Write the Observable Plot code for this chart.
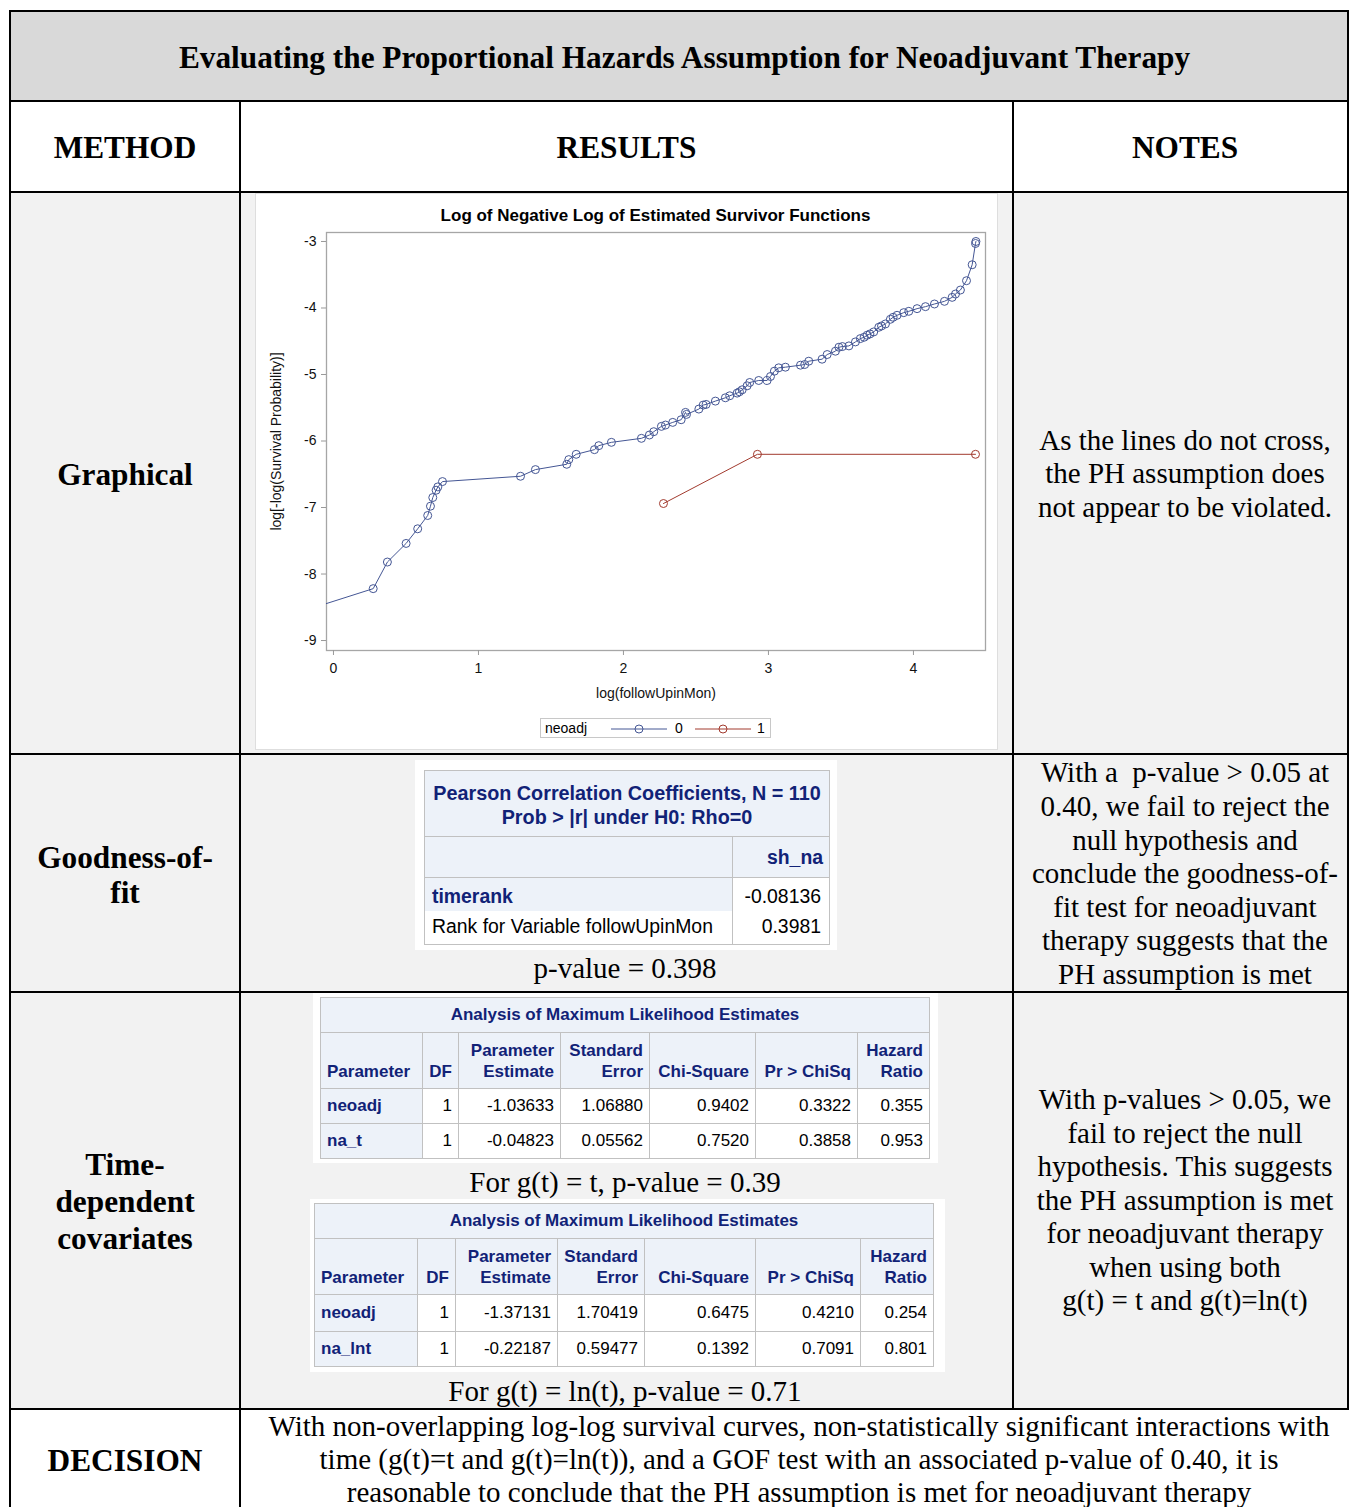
<!DOCTYPE html>
<html><head><meta charset="utf-8">
<script src="https://cdn.jsdelivr.net/npm/d3@7"></script>
<script src="https://cdn.jsdelivr.net/npm/@observablehq/plot@0.6"></script>
<style>
body{margin:0;background:#fff;}
#page{position:relative;width:1349px;height:1507px;overflow:hidden;background:#fff;font-family:"Liberation Serif","Times New Roman",serif;color:#000;}
.abs{position:absolute;}
.hl{position:absolute;background:#000;height:2px;}
.vl{position:absolute;background:#000;width:2px;}
.cell{position:absolute;display:flex;align-items:center;justify-content:center;text-align:center;}
.bold{font-weight:bold;font-size:31.3px;line-height:36px;}
.note{font-size:29px;line-height:33.6px;}
.sas{border-collapse:collapse;table-layout:fixed;font-family:"Liberation Sans",Arial,sans-serif;position:absolute;font-size:17px;}
.sas td{border:1px solid #c1c1c1;padding:0 6px;overflow:hidden;white-space:nowrap;box-sizing:border-box;}
.sas .h{background:#edf2f9;color:#112277;font-weight:bold;}
.sas .d{background:#fff;color:#000;text-align:right;}
.ptxt{position:absolute;font-size:29px;line-height:34px;text-align:center;white-space:nowrap;}
</style></head>
<body>
<div id="page"></div>
<script>
// ---------- data ----------
const blueX = [-0.10,0.274,0.372,0.501,0.581,0.650,0.669,0.685,0.708,0.720,0.752,1.290,1.393,1.609,1.623,1.674,1.800,1.830,1.917,2.124,2.179,2.209,2.262,2.290,2.340,2.398,2.428,2.435,2.520,2.550,2.570,2.634,2.703,2.733,2.784,2.800,2.819,2.853,2.871,2.933,2.991,3.014,3.041,3.071,3.117,3.221,3.250,3.278,3.370,3.405,3.462,3.486,3.510,3.555,3.600,3.634,3.660,3.680,3.700,3.726,3.761,3.780,3.807,3.841,3.860,3.887,3.933,3.968,4.025,4.083,4.145,4.214,4.267,4.290,4.324,4.366,4.405,4.428,4.431];
const blueY = [-8.48,-8.22,-7.82,-7.54,-7.32,-7.12,-6.98,-6.85,-6.74,-6.69,-6.61,-6.53,-6.43,-6.35,-6.28,-6.20,-6.13,-6.07,-6.02,-5.96,-5.91,-5.86,-5.78,-5.76,-5.72,-5.68,-5.57,-5.60,-5.52,-5.46,-5.45,-5.40,-5.35,-5.32,-5.28,-5.26,-5.23,-5.17,-5.12,-5.09,-5.09,-5.03,-4.95,-4.90,-4.89,-4.86,-4.85,-4.80,-4.77,-4.70,-4.65,-4.59,-4.58,-4.57,-4.51,-4.46,-4.44,-4.41,-4.39,-4.36,-4.29,-4.27,-4.24,-4.17,-4.14,-4.11,-4.07,-4.05,-4.01,-3.98,-3.94,-3.90,-3.84,-3.79,-3.73,-3.59,-3.35,-3.03,-3.00];
const redX = [2.276,2.924,4.428];
const redY = [-6.94,-6.20,-6.20];
const groups = ["0","1"];
const xTicks = [0,1,2,3,4];
const yTicks = [-3,-4,-5,-6,-7,-8,-9];

const pearsonTitle = ["Pearson Correlation Coefficients, N = 110","Prob > |r| under H0: Rho=0"];
const pearsonCol = "sh_na";
const pearsonVar = "timerank";
const pearsonLabel = "Rank for Variable followUpinMon";
const pearsonValues = ["-0.08136","0.3981"];

const mleTitle = "Analysis of Maximum Likelihood Estimates";
const mleHeaders = [["Parameter"],["DF"],["Parameter","Estimate"],["Standard","Error"],["Chi-Square"],["Pr > ChiSq"],["Hazard","Ratio"]];
const mle1Rows = [["neoadj","1","-1.03633","1.06880","0.9402","0.3322","0.355"],["na_t","1","-0.04823","0.05562","0.7520","0.3858","0.953"]];
const mle2Rows = [["neoadj","1","-1.37131","1.70419","0.6475","0.4210","0.254"],["na_lnt","1","-0.22187","0.59477","0.1392","0.7091","0.801"]];

const BLUE = "#445694", RED = "#A23A2E";
const page = document.getElementById("page");
function el(tag, cls, style, html){const e=document.createElement(tag); if(cls) e.className=cls; if(style) e.style.cssText=style; if(html!=null) e.innerHTML=html; page.appendChild(e); return e;}

// ---------- backgrounds ----------
el("div","abs","left:10px;top:10px;width:1339px;height:91px;background:#d9d9d9");
el("div","abs","left:10px;top:192px;width:1339px;height:1217px;background:#f2f2f2");
// SAS output areas (white)
el("div","abs","left:255px;top:193px;width:743px;height:557px;background:#fff;border:1px solid #dedede;box-sizing:border-box");
el("div","abs","left:415px;top:760px;width:422px;height:190px;background:#fff");
el("div","abs","left:313px;top:993px;width:625px;height:170px;background:#fff");
el("div","abs","left:310px;top:1199px;width:635px;height:173px;background:#fff");

// ---------- grid lines ----------
[10,100,191,753,991,1408].forEach(y=>el("div","hl",`left:10px;top:${y}px;width:1339px`));
el("div","vl","left:9px;top:10px;height:1497px");
el("div","vl","left:1347px;top:10px;height:1399px");
el("div","vl","left:239px;top:101px;height:1406px");
el("div","vl","left:1012px;top:101px;height:1308px");

// ---------- texts ----------
el("div","cell bold","left:10px;top:13px;width:1349px;height:90px","Evaluating the Proportional Hazards Assumption for Neoadjuvant Therapy");
el("div","cell bold","left:10px;top:103px;width:230px;height:90px","METHOD");
el("div","cell bold","left:240px;top:103px;width:773px;height:90px","RESULTS");
el("div","cell bold","left:1013px;top:103px;width:344px;height:90px","NOTES");
el("div","cell bold","left:10px;top:193px;width:230px;height:564px","Graphical");
el("div","cell bold","left:10px;top:755px;width:230px;height:240px;line-height:35px","Goodness-of-<br>fit");
el("div","cell bold","left:10px;top:993px;width:230px;height:417px;line-height:37px","Time-<br>dependent<br>covariates");
el("div","cell bold","left:10px;top:1409px;width:230px;height:104px","DECISION");

el("div","cell note","left:1013px;top:192px;width:344px;height:564px","As the lines do not cross,<br>the PH assumption does<br>not appear to be violated.");
el("div","cell note","left:1013px;top:754px;width:344px;height:240px","With a&nbsp; p-value &gt; 0.05 at<br>0.40, we fail to reject the<br>null hypothesis and<br>conclude the goodness-of-<br>fit test for neoadjuvant<br>therapy suggests that the<br>PH assumption is met");
el("div","cell note","left:1013px;top:992px;width:344px;height:417px","With p-values &gt; 0.05, we<br>fail to reject the null<br>hypothesis. This suggests<br>the PH assumption is met<br>for neoadjuvant therapy<br>when using both<br>g(t) = t and g(t)=ln(t)");
el("div","abs note","left:240px;top:1410px;width:1118px;text-align:center;line-height:33px;white-space:nowrap","With non-overlapping log-log survival curves, non-statistically significant interactions with<br>time (g(t)=t and g(t)=ln(t)), and a GOF test with an associated p-value of 0.40, it is<br>reasonable to conclude that the PH assumption is met for neoadjuvant therapy");

el("div","ptxt","left:425px;top:951px;width:400px","p-value = 0.398");
el("div","ptxt","left:425px;top:1165px;width:400px","For g(t) = t, p-value = 0.39");
el("div","ptxt","left:425px;top:1374px;width:400px","For g(t) = ln(t), p-value = 0.71");

// ---------- Pearson table ----------
(function(){
  const t = el("table","sas","left:424px;top:770px;width:405px;font-size:19.4px");
  t.innerHTML = `<colgroup><col style="width:308px"><col style="width:97px"></colgroup>
  <tr style="height:66px"><td colspan="2" class="h" style="text-align:center;line-height:24px;padding-top:2px;font-size:19.8px">${pearsonTitle.join("<br>")}</td></tr>
  <tr style="height:41px"><td class="h"></td><td class="h" style="text-align:right">${pearsonCol}</td></tr>
  <tr style="height:66px"><td style="padding:0;vertical-align:top;background:#fff">
     <div style="height:33px;line-height:37px;background:#edf2f9;color:#112277;font-weight:bold;padding:0 7px">${pearsonVar}</div>
     <div style="height:33px;line-height:30px;padding:0 7px">${pearsonLabel}</div></td>
   <td class="d" style="vertical-align:top;padding:0 8px"><div style="height:33px;line-height:37px">${pearsonValues[0]}</div><div style="height:33px;line-height:30px">${pearsonValues[1]}</div></td></tr>`;
})();

// ---------- MLE tables ----------
function mleTable(left, top, widths, rowH, rows){
  const t = el("table","sas",`left:${left}px;top:${top}px;width:${d3.sum(widths)}px`);
  let h = `<colgroup>${widths.map(w=>`<col style="width:${w}px">`).join("")}</colgroup>`;
  h += `<tr style="height:${rowH[0]}px"><td colspan="7" class="h" style="text-align:center">${mleTitle}</td></tr>`;
  h += `<tr style="height:${rowH[1]}px">${mleHeaders.map((lines,i)=>`<td class="h" style="vertical-align:bottom;padding-bottom:6px;line-height:21px;text-align:${i===0?"left":"right"}">${lines.join("<br>")}</td>`).join("")}</tr>`;
  rows.forEach((r,ri)=>{
    h += `<tr style="height:${rowH[2+ri]}px">${r.map((v,i)=>i===0?`<td class="h">${v}</td>`:`<td class="d">${v}</td>`).join("")}</tr>`;
  });
  t.innerHTML = h;
}
mleTable(320, 997, [102,36,102,89,106,102,72], [35,56,35,35], mle1Rows);
mleTable(314, 1203, [103,38,102,87,111,105,73], [35,56,37,35], mle2Rows);

// ---------- chart ----------
el("div","abs",`left:326px;top:206px;width:659px;height:22px;line-height:22px;text-align:center;font:bold 17px "Liberation Sans",Arial,sans-serif`,"Log of Negative Log of Estimated Survivor Functions");

const blue = blueX.map((x,i)=>({x, y: blueY[i], g: groups[0]}));
const red = redX.map((x,i)=>({x, y: redY[i], g: groups[1]}));
const chart = Plot.plot({
  width: 743, height: 480,
  marginLeft: 71, marginRight: 13, marginTop: 4, marginBottom: 58,
  style: {fontFamily: '"Liberation Sans", Arial, sans-serif', fontSize: "14px", color: "#000", background: "transparent", overflow: "visible"},
  x: {domain: [-0.048, 4.497]},
  y: {domain: [-9.15, -2.865]},
  marks: [
    Plot.frame({stroke: "#a6a6a6", strokeWidth: 1.3}),
    Plot.axisX({ticks: xTicks, tickFormat: d => String(d), tickSize: 5, tickPadding: 8, stroke: "#999", fill: "#111", label: "log(followUpinMon)", labelAnchor: "center", labelArrow: "none", labelOffset: 47}),
    Plot.axisY({ticks: yTicks, tickFormat: d => String(d), tickSize: 5, tickPadding: 5, stroke: "#999", fill: "#111", label: "log[-log(Survival Probability)]", labelAnchor: "center", labelArrow: "none", labelOffset: 55}),
    Plot.line(blue, {x: "x", y: "y", stroke: BLUE, strokeWidth: 1, clip: true}),
    Plot.dot(blue, {x: "x", y: "y", r: 4, stroke: BLUE, fill: "none", strokeWidth: 1, clip: true}),
    Plot.line(red, {x: "x", y: "y", stroke: RED, strokeWidth: 1, clip: true}),
    Plot.dot(red, {x: "x", y: "y", r: 4, stroke: RED, fill: "none", strokeWidth: 1, clip: true})
  ]
});
const holder = el("div","abs","left:255px;top:228px;width:743px;height:480px");
holder.appendChild(chart);

// legend
const sw = c => `<svg width="56" height="10" style="vertical-align:middle"><line x1="0" x2="56" y1="5" y2="5" stroke="${c}" stroke-width="1"/><circle cx="28" cy="5" r="4" fill="none" stroke="${c}"/></svg>`;
el("div","abs",`left:540px;top:718px;width:231px;height:20px;border:1px solid #c8c8c8;box-sizing:border-box;font:14px "Liberation Sans",Arial,sans-serif;line-height:18px;white-space:nowrap;background:#fff`,
  `<span style="position:absolute;left:4px;top:0">neoadj</span><span style="position:absolute;left:70px;top:0">${sw(BLUE)}</span><span style="position:absolute;left:134px;top:0">${groups[0]}</span><span style="position:absolute;left:154px;top:0">${sw(RED)}</span><span style="position:absolute;left:216px;top:0">${groups[1]}</span>`);
</script>
</body></html>
